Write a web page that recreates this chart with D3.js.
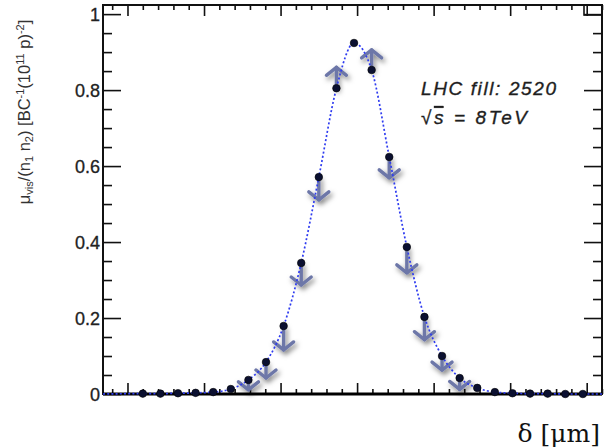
<!DOCTYPE html>
<html>
<head>
<meta charset="utf-8">
<script src="https://cdn.jsdelivr.net/npm/d3@7"></script>
<style>
  body { margin: 0; background: #fff; }
  svg { display: block; }
  .tick text { font-family: 'Liberation Sans', Arial, sans-serif; }
</style>
</head>
<body>
<svg width="607" height="448"></svg>
<script>
// beam separation of each scan step, um
const SEPARATION = [-280, -257, -234, -211, -188, -165, -142, -119, -96, -73, -50, -27, -4,
  19, 42, 65, 88, 111, 134, 157, 180, 203, 226, 249, 272, 295]
// mu_vis / (n1 n2)
const MU_NORM = [0.001, 0.001, 0.002, 0.003, 0.005, 0.013, 0.037, 0.084, 0.179, 0.345, 0.571, 0.805, 0.924,
  0.853, 0.624, 0.387, 0.203, 0.100, 0.042, 0.016, 0.005, 0.002, 0.001, 0.001, 0.000, 0.000]
// shift shown by the arrows (null = no arrow)
const ARROW_SHIFT = [null, null, null, null, null, null, -0.026, -0.042, -0.063, -0.058, -0.060, 0.055, null,
  0.053, -0.055, -0.068, -0.060, -0.037, -0.030, null, null, null, null, null, null, null]
// fit tails run out to the frame edges
const FIT_EDGES = [-332, 320]
const X_MAJOR = [-300, -200, -100, 0, 100, 200, 300]
const Y_MAJOR = [0, 0.2, 0.4, 0.6, 0.8, 1]

const svg = d3.select('svg')
const frameLeft = 103, frameRight = 602, frameTop = 5, frameBottom = 394

const x = d3.scaleLinear().domain(FIT_EDGES).range([frameLeft, frameRight])
const y = d3.scaleLinear().domain([0, 1.024]).range([frameBottom, frameTop])

const xMinor = d3.range(-320, 321, 20).filter(v => !X_MAJOR.includes(v))
const yMinor = d3.range(0, 1.001, 0.05).map(v => +v.toFixed(2)).filter(v => !Y_MAJOR.includes(v))

const defs = svg.append('defs')
const shadow = defs.append('filter').attr('id', 'shadow')
  .attr('x', '-50%').attr('y', '-50%').attr('width', '200%').attr('height', '200%')
shadow.append('feDropShadow')
  .attr('dx', 2).attr('dy', 3).attr('stdDeviation', 2.6)
  .attr('flood-color', '#000').attr('flood-opacity', 0.5)

// axes, ticks pointing inwards
const axisGroup = (axis, tx, ty) => svg.append('g')
  .attr('transform', `translate(${tx},${ty})`)
  .call(axis)
  .call(g => g.select('.domain').remove())
  .call(g => g.selectAll('.tick line').attr('stroke', '#111').attr('stroke-width', 1.6))

axisGroup(d3.axisBottom(x).tickValues(X_MAJOR).tickSize(-11).tickFormat(''), 0, frameBottom)
axisGroup(d3.axisBottom(x).tickValues(xMinor).tickSize(-5).tickFormat(''), 0, frameBottom)
axisGroup(d3.axisTop(x).tickValues(X_MAJOR).tickSize(-11).tickFormat(''), 0, frameTop)
axisGroup(d3.axisTop(x).tickValues(xMinor).tickSize(-5).tickFormat(''), 0, frameTop)

axisGroup(d3.axisLeft(y).tickValues(Y_MAJOR).tickSize(-18).tickPadding(6)
  .tickFormat(d => d === 0 || d === 1 ? d : d3.format('.1f')(d)), frameLeft, 0)
  .call(g => g.selectAll('.tick text')
    .attr('font-size', 18).attr('fill', '#222').attr('x', -3).attr('dy', '0.36em')
    .attr('stroke', '#222').attr('stroke-width', 0.3))
axisGroup(d3.axisLeft(y).tickValues(yMinor).tickSize(-9).tickFormat(''), frameLeft, 0)
axisGroup(d3.axisRight(y).tickValues(Y_MAJOR).tickSize(-18).tickFormat(''), frameRight, 0)
axisGroup(d3.axisRight(y).tickValues(yMinor).tickSize(-9).tickFormat(''), frameRight, 0)

// frame
svg.append('rect')
  .attr('x', frameLeft).attr('y', frameTop)
  .attr('width', frameRight - frameLeft).attr('height', frameBottom - frameTop)
  .attr('fill', 'none').attr('stroke', '#111').attr('stroke-width', 2)
svg.append('line')
  .attr('x1', frameLeft).attr('x2', frameRight).attr('y1', frameBottom).attr('y2', frameBottom)
  .attr('stroke', '#000').attr('stroke-width', 3)
svg.append('rect')
  .attr('x', frameRight - 18).attr('y', frameTop).attr('width', 18).attr('height', 10)
  .attr('fill', 'none').attr('stroke', '#111').attr('stroke-width', 1.6)

const points = SEPARATION.map((d, i) => ({ x: d, y: MU_NORM[i], shift: ARROW_SHIFT[i] }))

// shift arrows
const arrows = svg.append('g').attr('filter', 'url(#shadow)')
  .selectAll('g')
  .data(points.filter(p => p.shift !== null))
  .join('g')
  .attr('fill', 'none').attr('stroke', '#6d77a8').attr('stroke-width', 3.4)
  .attr('stroke-linecap', 'round').attr('stroke-linejoin', 'round')

arrows.append('line')
  .attr('x1', d => x(d.x)).attr('x2', d => x(d.x))
  .attr('y1', d => y(d.y)).attr('y2', d => y(d.y + d.shift))
arrows.append('path')
  .attr('d', d => {
    const tx = x(d.x), ty = y(d.y + d.shift)
    const dir = d.shift > 0 ? 1 : -1
    return `M${tx - 10},${ty + dir * 8}L${tx},${ty}L${tx + 10},${ty + dir * 8}`
  })

// fit curve
const fit = [{ x: FIT_EDGES[0], y: 0 }, ...points, { x: FIT_EDGES[1], y: 0 }]
svg.append('path')
  .datum(fit)
  .attr('fill', 'none')
  .attr('stroke', '#2f3cf0')
  .attr('stroke-width', 1.7)
  .attr('stroke-dasharray', '2,2.2')
  .attr('d', d3.line().x(d => x(d.x)).y(d => y(d.y)).curve(d3.curveMonotoneX))

// data points
svg.append('g')
  .selectAll('circle')
  .data(points)
  .join('circle')
  .attr('cx', d => x(d.x))
  .attr('cy', d => y(d.y))
  .attr('r', 3.8)
  .attr('fill', '#0b1030')
  .attr('stroke', '#000')
  .attr('stroke-width', 0.6)

// y title
const yTitle = svg.append('text')
  .attr('transform', 'translate(30,112) rotate(-90)')
  .attr('text-anchor', 'middle')
  .attr('font-family', "'Liberation Sans', Arial, sans-serif")
  .attr('font-size', 16.5)
  .attr('fill', '#333')
const parts = [['μ', 0], ['vis', -1], ['/(n', 0], ['1', -1], [' n', 0], ['2', -1], [') [BC', 0],
  ['-1', 1], ['(10', 0], ['11', 1], [' p)', 0], ['-2', 1], [']', 0]]
parts.forEach(([t, s]) => {
  const ts = yTitle.append('tspan').text(t)
  if (s) ts.attr('font-size', 11).attr('baseline-shift', s > 0 ? '55%' : '-25%')
})

// annotation
const note = svg.append('g')
  .attr('font-family', "'Liberation Sans', Arial, sans-serif")
  .attr('font-style', 'italic')
  .attr('font-size', 19)
  .attr('fill', '#1e1e1e')
  .attr('stroke', '#1e1e1e')
  .attr('stroke-width', 0.35)
note.append('text').attr('x', 421).attr('y', 95)
  .attr('textLength', 135).attr('lengthAdjust', 'spacing')
  .text('LHC fill: 2520')
const energy = note.append('text').attr('x', 421).attr('y', 124)
  .attr('textLength', 106).attr('lengthAdjust', 'spacing')
energy.append('tspan').attr('font-style', 'normal').text('√')
energy.append('tspan').attr('text-decoration', 'overline').text('s')
energy.append('tspan').text(' = 8TeV')

// x title
svg.append('text')
  .attr('x', 600).attr('y', 442)
  .attr('text-anchor', 'end')
  .attr('font-family', "'DejaVu Serif', 'Liberation Serif', serif")
  .attr('font-size', 25)
  .attr('fill', '#111')
  .text('δ [μm]')
</script>
</body>
</html>
